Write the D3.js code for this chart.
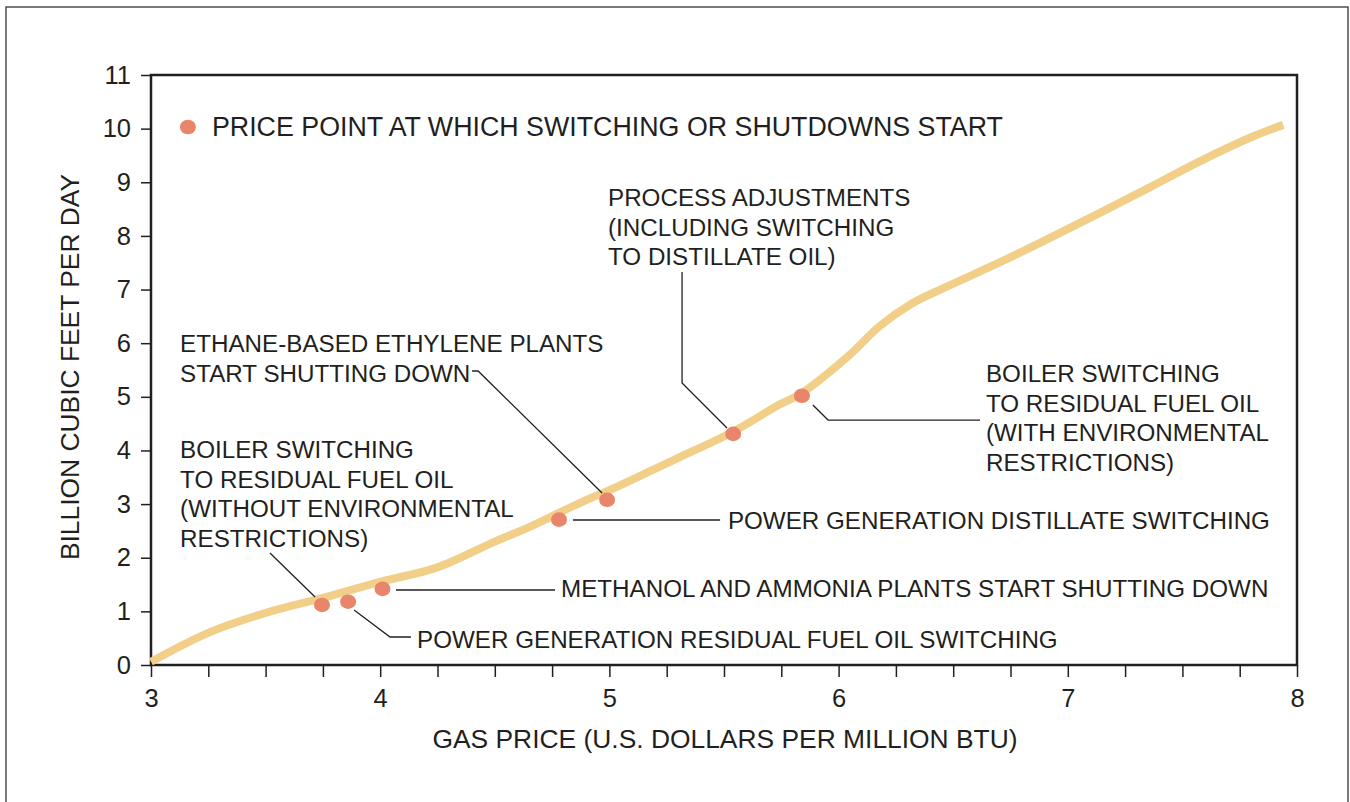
<!DOCTYPE html>
<html>
<head>
<meta charset="utf-8">
<script src="https://cdn.jsdelivr.net/npm/d3@7/dist/d3.min.js"></script>
<style>
  body { margin: 0; background: #fff; }
  svg { font-family: "Liberation Sans", Arial, sans-serif; }
  text { fill: #231f20; }
</style>
</head>
<body>
<svg id="chart"></svg>
<script>
// Demand curve (gas price vs. billion cubic feet per day)
const curvePrice  = [3.0, 3.25, 3.5, 3.75, 4.0, 4.25, 4.5, 4.65, 4.87, 5.0, 5.18, 5.31, 5.54, 5.74, 5.84, 6.04, 6.18, 6.32, 6.47, 6.70, 6.92, 7.14, 7.36, 7.58, 7.80, 7.94];
const curveVolume = [0.06, 0.6, 0.97, 1.25, 1.55, 1.82, 2.3, 2.57, 3.02, 3.26, 3.62, 3.88, 4.35, 4.85, 5.07, 5.75, 6.32, 6.74, 7.05, 7.5, 7.96, 8.43, 8.91, 9.4, 9.84, 10.07];

// Price points where switching / shutdowns start
const pointPrice  = [3.746, 3.86, 4.01, 4.78, 4.99, 5.54, 5.84];
const pointVolume = [1.12, 1.18, 1.42, 2.71, 3.08, 4.31, 5.02];

// Axis ticks
const xTicks = [3, 4, 5, 6, 7, 8];
const xMinorTicks = d3.range(3, 8.001, 0.25);
const yTicks = d3.range(0, 12);

const legendText = 'PRICE POINT AT WHICH SWITCHING OR SHUTDOWNS START';
const xTitle = 'GAS PRICE (U.S. DOLLARS PER MILLION BTU)';
const yTitle = 'BILLION CUBIC FEET PER DAY';

// Annotations: text anchor and leader line in data units
const annotations = [
  { lines: ['PROCESS ADJUSTMENTS', '(INCLUDING SWITCHING', 'TO DISTILLATE OIL)'],
    at: [4.994, 8.557], leader: [[5.317, 7.327], [5.317, 5.257], [5.513, 4.418]] },
  { lines: ['ETHANE-BASED ETHYLENE PLANTS', 'START SHUTTING DOWN'],
    at: [3.127, 5.835], leader: [[4.401, 5.481], [4.427, 5.481], [4.968, 3.207]] },
  { lines: ['BOILER SWITCHING', 'TO RESIDUAL FUEL OIL', '(WITHOUT ENVIRONMENTAL', 'RESTRICTIONS)'],
    at: [3.127, 3.859], leader: [[3.519, 2.088], [3.716, 1.268]] },
  { lines: ['BOILER SWITCHING', 'TO RESIDUAL FUEL OIL', '(WITH ENVIRONMENTAL', 'RESTRICTIONS)'],
    at: [6.643, 5.276], leader: [[5.888, 4.847], [5.954, 4.567], [6.617, 4.567]] },
  { lines: ['POWER GENERATION DISTILLATE SWITCHING'],
    at: [5.517, 2.535], leader: [[4.841, 2.703], [5.483, 2.703]] },
  { lines: ['METHANOL AND AMMONIA PLANTS START SHUTTING DOWN'],
    at: [4.789, 1.268], leader: [[4.069, 1.398], [4.763, 1.398]] },
  { lines: ['POWER GENERATION RESIDUAL FUEL OIL SWITCHING'],
    at: [4.161, 0.317], leader: [[3.886, 1.025], [4.043, 0.522], [4.134, 0.522]] }
];

const width = 1350;
const height = 802;
const margin = { top: 75, right: 53, bottom: 137, left: 151 };
const innerW = width - margin.left - margin.right;
const innerH = height - margin.top - margin.bottom;

const svg = d3.select('#chart')
  .attr('width', width)
  .attr('height', height);

// Outer frame
svg.append('rect')
  .attr('x', 6).attr('y', 7)
  .attr('width', 1342).attr('height', 830)
  .attr('fill', 'none')
  .attr('stroke', '#4d4d4f')
  .attr('stroke-width', 1.5);

const g = svg.append('g')
  .attr('transform', `translate(${margin.left},${margin.top})`);

const x = d3.scaleLinear().domain([3, 8]).range([0, innerW]);
const y = d3.scaleLinear().domain([0, 11]).range([innerH, 0]);

// X ticks (every 0.25, labels on integers)
const xAxis = g.append('g')
  .attr('transform', `translate(0,${innerH})`)
  .call(d3.axisBottom(x).tickValues(xMinorTicks).tickSize(12).tickSizeOuter(0)
    .tickFormat(d => xTicks.includes(d) ? d3.format('d')(d) : ''));
xAxis.select('.domain').remove();
xAxis.selectAll('line').attr('stroke', '#231f20').attr('stroke-width', 1.5);
xAxis.selectAll('text').attr('font-size', 25.5).attr('dy', '1.05em')
  .attr('font-family', '"Liberation Sans", Arial, sans-serif').attr('fill', '#231f20');

// Y ticks
const yAxis = g.append('g')
  .call(d3.axisLeft(y).tickValues(yTicks).tickSize(10).tickPadding(10).tickSizeOuter(0));
yAxis.select('.domain').remove();
yAxis.selectAll('line').attr('stroke', '#231f20').attr('stroke-width', 1.5);
yAxis.selectAll('text').attr('font-size', 25.5)
  .attr('font-family', '"Liberation Sans", Arial, sans-serif').attr('fill', '#231f20');

// Plot border
g.append('rect')
  .attr('width', innerW).attr('height', innerH)
  .attr('fill', 'none')
  .attr('stroke', '#231f20')
  .attr('stroke-width', 2.5);

// Curve
const curveData = curvePrice.map((p, i) => ({ p: p, v: curveVolume[i] }));
const line = d3.line()
  .x(d => x(d.p))
  .y(d => y(d.v))
  .curve(d3.curveCatmullRom.alpha(0.5));

g.append('path')
  .datum(curveData)
  .attr('d', line)
  .attr('fill', 'none')
  .attr('stroke', '#f2cf88')
  .attr('stroke-width', 8);

// Leader lines
const leader = d3.line().x(d => x(d[0])).y(d => y(d[1]));
g.selectAll('.leader')
  .data(annotations)
  .enter()
  .append('path')
  .attr('class', 'leader')
  .attr('d', d => leader(d.leader))
  .attr('fill', 'none')
  .attr('stroke', '#231f20')
  .attr('stroke-width', 1.3);

// Price points
const pts = pointPrice.map((p, i) => ({ p: p, v: pointVolume[i] }));
g.selectAll('.pt')
  .data(pts)
  .enter()
  .append('ellipse')
  .attr('class', 'pt')
  .attr('cx', d => x(d.p))
  .attr('cy', d => y(d.v))
  .attr('rx', 8).attr('ry', 7.3)
  .attr('fill', '#e8856a');

// Annotation text
const ann = g.selectAll('.ann')
  .data(annotations)
  .enter()
  .append('text')
  .attr('class', 'ann')
  .attr('x', d => x(d.at[0]))
  .attr('y', d => y(d.at[1]))
  .attr('font-size', 24.2);
ann.selectAll('tspan')
  .data(d => d.lines.map(l => ({ t: l, x: x(d.at[0]) })))
  .enter()
  .append('tspan')
  .attr('x', d => d.x)
  .attr('dy', (d, i) => i === 0 ? 0 : 29.5)
  .text(d => d.t);

// Legend
g.append('ellipse')
  .attr('cx', x(3.161)).attr('cy', y(10.03))
  .attr('rx', 8).attr('ry', 7.3)
  .attr('fill', '#e8856a');
g.append('text')
  .attr('x', x(3.266)).attr('y', y(10.03))
  .attr('dy', '0.33em')
  .attr('font-size', 26.8)
  .text(legendText);

// Axis titles
g.append('text')
  .attr('x', innerW / 2 + 1)
  .attr('y', innerH + 83)
  .attr('text-anchor', 'middle')
  .attr('font-size', 26.4)
  .text(xTitle);

g.append('text')
  .attr('transform', `translate(${-72},${innerH / 2 - 3}) rotate(-90)`)
  .attr('text-anchor', 'middle')
  .attr('font-size', 26.4)
  .text(yTitle);
</script>
</body>
</html>
